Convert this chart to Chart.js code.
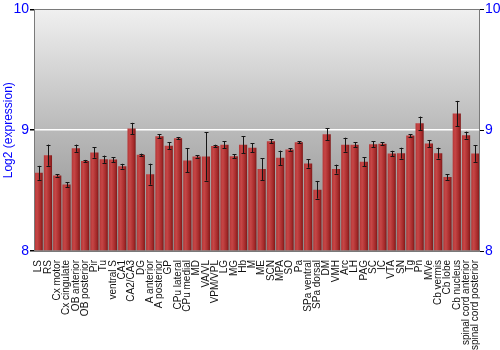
<!DOCTYPE html>
<html>
<head>
<meta charset="utf-8">
<script src="https://cdn.jsdelivr.net/npm/chart.js@4/dist/chart.umd.min.js"></script>
<style>
  html, body { margin: 0; padding: 0; background: #fff; }
  #wrap { width: 500px; height: 350px; }
</style>
</head>
<body>
<div id="wrap"><canvas id="chart"></canvas></div>
<script>
const regions = [
  'LS', 'RS', 'Cx motor', 'Cx cingulate', 'OB anterior', 'OB posterior', 'Pir', 'Tu',
  'ventral S', 'CA1', 'CA2/CA3', 'DG', 'A anterior', 'A posterior', 'GP', 'CPu lateral',
  'CPu medial', 'MD', 'VA/VL', 'VPM/VPL', 'LG', 'MG', 'Hb', 'M', 'ME', 'SCN', 'MPA', 'SO',
  'Pa', 'SPa ventral', 'SPa dorsal', 'DM', 'VMH', 'Arc', 'LH', 'PAG', 'SC', 'IC', 'VTA',
  'SN', 'Tg', 'Pn', 'MVe', 'Cb vermis', 'Cb lobe', 'Cb nucleus', 'spinal cord anterior',
  'spinal cord posterior'
];

const expression = [
  8.647, 8.793, 8.626, 8.551, 8.851, 8.744, 8.816, 8.760,
  8.757, 8.702, 9.014, 8.796, 8.636, 8.950, 8.872, 8.934,
  8.750, 8.783, 8.783, 8.870, 8.879, 8.785, 8.880, 8.854, 8.678, 8.909, 8.771, 8.840,
  8.900, 8.725, 8.507, 8.967, 8.678, 8.880, 8.880, 8.738, 8.884, 8.887, 8.807,
  8.810, 8.956, 9.058, 8.890, 8.810, 8.612, 9.138, 8.959,
  8.807
];

const stdError = [
  0.058, 0.088, 0.010, 0.020, 0.030, 0.010, 0.044, 0.030,
  0.020, 0.020, 0.047, 0.010, 0.087, 0.015, 0.028, 0.010,
  0.100, 0.010, 0.200, 0.010, 0.028, 0.015, 0.070, 0.036, 0.090, 0.015, 0.060, 0.010,
  0.008, 0.035, 0.073, 0.050, 0.037, 0.058, 0.020, 0.037, 0.023, 0.012, 0.023,
  0.045, 0.012, 0.055, 0.029, 0.045, 0.023, 0.105, 0.029,
  0.069
];

const yTicks = [8, 9, 10];

const blue = '#0000ff';

// grey backdrop + frame behind the bars, error bars on top
const panelPlugin = {
  id: 'panel',
  beforeDraw(chart) {
    const { ctx, chartArea: a } = chart;
    const g = ctx.createLinearGradient(0, a.top, 0, a.bottom);
    g.addColorStop(0, '#f0f0f0');
    g.addColorStop(0.5, '#b9b9b9');
    g.addColorStop(1, '#8a8a8a');
    ctx.save();
    ctx.fillStyle = g;
    ctx.fillRect(a.left, a.top, a.right - a.left, a.bottom - a.top);
    ctx.restore();
  },
  afterDraw(chart) {
    const { ctx, chartArea: a } = chart;
    ctx.save();
    ctx.strokeStyle = '#7a7a7a';
    ctx.lineWidth = 1;
    ctx.strokeRect(Math.round(a.left) + 0.5, Math.round(a.top) + 0.5,
      Math.round(a.right - a.left) - 1, Math.round(a.bottom - a.top));
    ctx.restore();
  }
};

const errorBarPlugin = {
  id: 'errorBars',
  afterDatasetsDraw(chart) {
    const { ctx } = chart;
    const x = chart.scales.x;
    const y = chart.scales.y;
    ctx.save();
    ctx.strokeStyle = '#151515';
    ctx.lineWidth = 1;
    expression.forEach((v, i) => {
      const px = Math.round(x.getPixelForValue(i)) + 0.5;
      const hi = y.getPixelForValue(v + stdError[i]);
      const lo = y.getPixelForValue(v - stdError[i]);
      ctx.beginPath();
      ctx.moveTo(px, hi);
      ctx.lineTo(px, lo);
      ctx.moveTo(px - 2, Math.round(hi) + 0.5);
      ctx.lineTo(px + 2, Math.round(hi) + 0.5);
      ctx.moveTo(px - 2, Math.round(lo) + 0.5);
      ctx.lineTo(px + 2, Math.round(lo) + 0.5);
      ctx.stroke();
    });
    ctx.restore();
  }
};

const barFill = (context) => {
  const chart = context.chart;
  if (!chart.chartArea || !chart.scales.x) {
    return '#b22222';
  }
  const x = chart.scales.x;
  const step = (chart.chartArea.right - chart.chartArea.left) / regions.length;
  const cx = x.getPixelForValue(context.dataIndex);
  const half = step * 0.44;
  const g = chart.ctx.createLinearGradient(cx - half, 0, cx + half, 0);
  g.addColorStop(0, '#b53636');
  g.addColorStop(0.3, '#c64646');
  g.addColorStop(0.75, '#a52a2a');
  g.addColorStop(1, '#7e1818');
  return g;
};

new Chart(document.getElementById('chart'), {
  type: 'bar',
  data: {
    labels: regions,
    datasets: [
      {
        label: 'Log2 (expression)',
        data: expression,
        backgroundColor: barFill,
        borderWidth: 0,
        barPercentage: 0.88,
        categoryPercentage: 1,
        base: 8,
      },
    ],
  },
  options: {
    responsive: true,
    maintainAspectRatio: false,
    animation: false,
    layout: {
      padding: { top: 9, left: 0, right: 0, bottom: 0 },
    },
    plugins: {
      legend: { display: false },
      tooltip: { enabled: false },
    },
    scales: {
      x: {
        grid: { display: false },
        border: { display: false },
        ticks: {
          autoSkip: false,
          minRotation: 90,
          maxRotation: 90,
          padding: 1,
          color: '#111',
          font: { family: 'Liberation Sans, Arial, sans-serif', size: 10 },
        },
        afterFit: (scale) => {
          scale.height = 99;
        },
      },
      y: {
        position: 'left',
        min: 8,
        max: 10,
        afterBuildTicks: (scale) => {
          scale.ticks = yTicks.map((v) => ({ value: v }));
        },
        grid: {
          color: (c) => (c.tick && c.tick.value === 9 ? '#ffffff' : 'rgba(0,0,0,0)'),
          lineWidth: 1.5,
          tickColor: '#000',
          tickLength: 4,
        },
        border: { display: false },
        ticks: {
          color: blue,
          padding: 1,
          font: { family: 'Liberation Sans, Arial, sans-serif', size: 14 },
        },
        title: {
          display: true,
          text: 'Log2 (expression)',
          color: blue,
          padding: 1,
          font: { family: 'Liberation Sans, Arial, sans-serif', size: 12 },
        },
        afterFit: (scale) => {
          scale.width = 34;
        },
      },
      y2: {
        position: 'right',
        min: 8,
        max: 10,
        afterBuildTicks: (scale) => {
          scale.ticks = yTicks.map((v) => ({ value: v }));
        },
        grid: {
          drawOnChartArea: false,
          tickColor: '#000',
          tickLength: 4,
        },
        border: { display: false },
        ticks: {
          color: blue,
          padding: 1,
          font: { family: 'Liberation Sans, Arial, sans-serif', size: 14 },
        },
        afterFit: (scale) => {
          scale.width = 20;
        },
      },
    },
  },
  plugins: [panelPlugin, errorBarPlugin],
});
</script>
</body>
</html>
